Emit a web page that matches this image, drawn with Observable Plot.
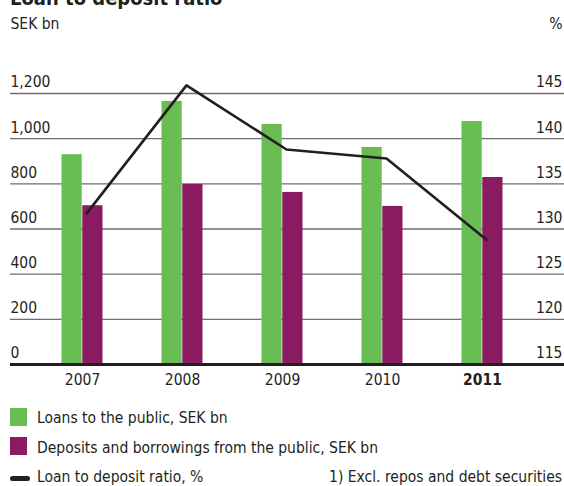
<!DOCTYPE html>
<html><head><meta charset="utf-8">
<script src="https://cdn.jsdelivr.net/npm/d3@7"></script>
<script src="https://cdn.jsdelivr.net/npm/@observablehq/plot@0.6"></script>
<style>
body{margin:0;background:#fff;}
#wrap{position:relative;width:564px;height:486px;overflow:hidden;font-family:"DejaVu Sans Condensed","Liberation Sans",sans-serif;color:#231f20;}
#title{position:absolute;left:10px;top:-12px;font-size:20px;line-height:20px;font-weight:bold;white-space:nowrap;}
.sw{position:absolute;left:10px;width:17px;height:18px;}
.lt{position:absolute;font-size:15.5px;line-height:16px;white-space:nowrap;}
</style></head><body>
<div id="wrap">
<div id="title">Loan to deposit ratio</div>
<div id="chart"></div>
<div class="sw" style="top:408px;background:#68be52"></div>
<div class="lt" style="left:37px;top:410px">Loans to the public, SEK bn</div>
<div class="sw" style="top:437px;background:#8a1b61"></div>
<div class="lt" style="left:37px;top:440px">Deposits and borrowings from the public, SEK bn</div>
<div style="position:absolute;left:10px;top:476px;width:20px;height:5px;border-radius:3px;background:#231f20"></div>
<div class="lt" style="left:37px;top:469px">Loan to deposit ratio, %</div>
<div class="lt" style="right:2px;top:469px">1) Excl. repos and debt securities</div>
</div>
<script>
const years = ["2007","2008","2009","2010","2011"];
const loans = [929, 1165, 1063, 961, 1076];
const deposits = [703, 797, 762, 700, 828];
const ratio = [131.7, 145.9, 138.8, 137.8, 128.8];
const leftTicks = [0,200,400,600,800,1000,1200];
const rightTicks = [115,120,125,130,135,140,145];

const toLeft = r => (r - 115) * 40;
const rows = years.map((y,i)=>({year:y, loans:loans[i], deposits:deposits[i], ratio:ratio[i]}));
const font = "'DejaVu Sans Condensed','Liberation Sans',sans-serif";

const chart = Plot.plot({
  width:564, height:390, marginTop:93, marginBottom:26, marginLeft:10, marginRight:0,
  x:{type:"band", domain:years, range:[30.6,533.4], padding:0},
  y:{domain:[0,1200]},
  style:{fontFamily:font, fontSize:"15.5px", color:"#231f20", background:"white"},
  marks:[
    Plot.ruleY(leftTicks.slice(1), {stroke:"#6d6e71", strokeWidth:1.4}),
    Plot.barY(rows, {x:"year", y:"loans", fill:"#68be52", insetLeft:39.9, insetRight:39.9, dx:-10.4}),
    Plot.barY(rows, {x:"year", y:"deposits", fill:"#8a1b61", insetLeft:39.9, insetRight:39.9, dx:10.4}),
    Plot.ruleY([0], {stroke:"#231f20", strokeWidth:3}),
    Plot.lineY(rows, {x:"year", y:d=>toLeft(d.ratio), stroke:"#231f20", strokeWidth:2.6, dx:4}),
    Plot.axisY(leftTicks, {anchor:"left", tickSize:0, tickPadding:0, textAnchor:"start", dy:-11, tickFormat:d3.format(",")}),
    Plot.axisY(rightTicks.map(toLeft), {anchor:"right", tickSize:0, tickPadding:0, textAnchor:"end", dx:-2, dy:-11, tickFormat:d=>String(115 + d/40)}),
    Plot.axisX(years.slice(0,4), {tickSize:0, tickPadding:9, label:null}),
    Plot.axisX(["2011"], {tickSize:0, tickPadding:9, label:null, fontWeight:"bold"}),
    Plot.text(["SEK bn"], {frameAnchor:"top-left", lineAnchor:"bottom", textAnchor:"start", dy:-65}),
    Plot.text(["%"], {frameAnchor:"top-right", lineAnchor:"bottom", textAnchor:"end", dx:-2, dy:-65})
  ]
});
document.getElementById("chart").appendChild(chart);
</script>
</body></html>
